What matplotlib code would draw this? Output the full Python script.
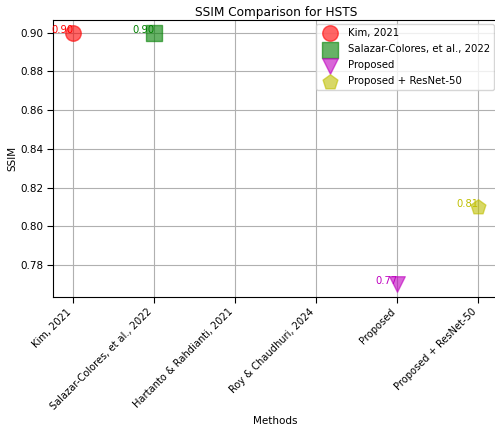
import matplotlib
matplotlib.use("Agg")
import matplotlib.pyplot as plt

methods = ["Kim, 2021", "Salazar-Colores, et al., 2022", "Hartanto & Rahdianti, 2021",
           "Roy & Chaudhuri, 2024", "Proposed", "Proposed + ResNet-50"]
series_names = ["Kim, 2021", "Salazar-Colores, et al., 2022", "Proposed", "Proposed + ResNet-50"]
series_values = [0.90, 0.90, 0.77, 0.81]
colors = ["red", "green", "m", "y"]
markers = ["o", "s", "v", "p"]

fig = plt.figure(figsize=(4.95, 4.29), dpi=100)
ax = fig.add_axes([53/495, 1-297/429, 445.5/495, 277/429])

pos = {m: i for i, m in enumerate(methods)}
for name, val, c, mk in zip(series_names, series_values, colors, markers):
    x = pos[name]
    ax.scatter([x], [val], color=c, marker=mk, s=125, alpha=0.6, label=name, zorder=3)
    ax.text(x, val, f"{val:.2f}", color=c, ha="right", va="baseline", fontsize=7.2)

ax.set_xticks(range(len(methods)))
ax.set_xticklabels(methods, rotation=45, ha="right", fontsize=7.1)
ax.set_xlim(-0.25, 5.25)
ax.set_ylim(0.7635, 0.9065)
ax.tick_params(axis="y", labelsize=7.5)
ax.tick_params(length=4, pad=3)
ax.grid(True)
ax.set_axisbelow(True)
ax.set_title("SSIM Comparison for HSTS", fontsize=8.7, pad=3)
ax.set_xlabel("Methods", fontsize=7.5, labelpad=3)
ax.set_ylabel("SSIM", fontsize=7.5, labelpad=2)
ax.legend(loc="upper right", fontsize=7.3, borderaxespad=0.4, labelspacing=0.6)

fig.savefig("out.png", dpi=100)
